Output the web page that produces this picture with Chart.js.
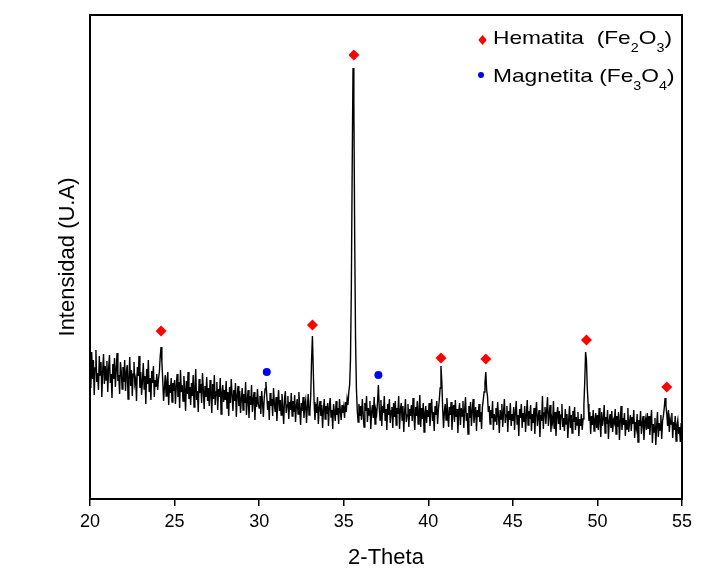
<!DOCTYPE html>
<html><head><meta charset="utf-8">
<script src="https://cdn.jsdelivr.net/npm/chart.js@4/dist/chart.umd.min.js"></script>
<style>html,body{margin:0;padding:0;background:#fff}canvas{display:block}</style>
</head><body>
<canvas id="c" width="701" height="569"></canvas>
<script>
// Diffractogram sampling grid (2-Theta, degrees)
const TWO_THETA_START = 20;
const TWO_THETA_STEP = 0.05;
// Intensity (arbitrary units), one row per degree, 20 samples each
const intensity = [
135,112,148,121,140,105,132,150,118,127,110,144,125,138,103,129,146,116,134,120,
139,108,131,145,117,126,102,136,121,142,113,130,147,119,125,106,138,128,111,133,
118,140,109,127,135,101,122,143,114,130,104,126,138,116,121,99,133,124,144,112,
128,105,119,137,111,124,96,131,116,140,108,122,100,129,117,134,103,120,113,126,
110,121,128,143,153,138,120,99,112,125,104,118,128,95,115,107,122,98,117,109,
120,96,114,126,103,118,92,130,108,115,99,124,111,89,119,106,128,101,113,95,
117,104,125,93,112,131,100,109,88,121,107,116,97,127,110,91,114,103,123,99,
112,94,120,106,87,116,101,125,95,108,118,90,111,103,122,86,107,115,98,110,
100,119,92,108,84,113,97,121,105,89,110,99,117,83,104,114,94,109,87,102,
112,90,106,97,118,85,101,110,82,104,95,115,88,100,108,80,103,93,111,96,
92,104,86,109,97,83,102,111,118,105,90,99,80,107,94,101,84,112,96,88,
103,79,97,110,89,100,85,106,93,76,101,109,87,95,104,81,98,90,107,84,
99,88,105,78,94,101,86,108,92,75,97,89,103,82,95,100,77,93,106,85,
88,104,140,164,130,98,80,96,87,103,76,92,99,84,95,72,90,101,81,94,
86,97,74,93,102,83,90,71,96,88,79,99,85,92,76,101,89,80,95,87,
93,82,98,88,101,95,108,115,140,210,330,432,395,260,160,112,90,78,96,84,
94,80,101,86,73,97,89,104,78,92,85,99,71,88,95,82,103,76,90,86,
98,115,92,80,100,74,94,87,104,79,91,70,96,85,101,77,89,93,72,97,
83,99,75,92,86,104,71,90,97,80,94,68,88,101,78,85,96,73,91,84,
95,79,102,86,70,93,84,99,76,89,105,73,92,81,97,68,87,94,77,90,
83,97,74,90,101,79,88,69,94,85,99,76,91,100,112,134,118,92,72,88,
96,80,102,87,73,93,85,98,70,89,95,78,100,83,91,67,88,97,75,92,
84,99,72,90,103,79,87,66,94,82,98,74,89,101,77,86,93,69,90,83,
96,78,88,71,93,100,108,117,128,110,104,88,94,76,90,82,99,70,86,79,
92,75,98,84,67,90,81,96,73,88,101,77,85,94,68,89,80,97,74,86,
79,93,70,88,99,76,85,64,91,82,96,72,87,78,94,68,84,100,75,89,
81,95,69,86,77,92,66,88,98,74,83,90,63,85,79,104,71,87,93,76,
90,103,74,86,95,68,82,77,99,71,88,64,84,93,76,89,70,85,96,73,
82,69,91,76,86,62,80,94,72,85,67,89,78,93,70,83,75,88,64,81,
74,86,70,81,95,118,148,140,112,96,79,88,66,84,75,90,69,80,87,72,
85,70,92,78,63,88,74,81,95,67,83,76,90,61,79,86,72,89,68,80,
77,91,66,84,73,88,60,79,94,70,82,75,87,64,80,71,92,68,78,85,
69,83,76,90,62,78,72,86,58,80,74,89,66,77,84,60,75,81,70,87,
71,84,65,79,90,57,76,68,82,55,74,88,63,77,70,85,61,79,84,92,
102,94,86,74,90,68,81,76,87,62,78,70,84,59,75,80,66,73,58,77,
64
];
// Phase markers
const hematitaX = [24.2, 33.15, 35.6, 40.75, 43.4, 49.35, 54.1];
const hematitaY = [169, 175, 445, 142, 141, 160, 113];
const magnetitaX = [30.45, 37.05];
const magnetitaY = [128, 125];
const xTicks = [20, 25, 30, 35, 40, 45, 50, 55];

const FONT = "'Liberation Sans', Arial, Helvetica, sans-serif";

const lineData = intensity.map((v, i) => ({x: +(TWO_THETA_START + i * TWO_THETA_STEP).toFixed(2), y: v}));
const hemData = hematitaX.map((x, i) => ({x, y: hematitaY[i]}));
const magData = magnetitaX.map((x, i) => ({x, y: magnetitaY[i]}));

const bgPlugin = {
  id: 'bg',
  beforeDraw(chart) {
    const c = chart.ctx;
    c.save(); c.fillStyle = '#fff'; c.fillRect(0, 0, chart.width, chart.height); c.restore();
  }
};

const framePlugin = {
  id: 'frame',
  afterDraw(chart) {
    const {ctx, chartArea: a} = chart;
    ctx.save();
    ctx.strokeStyle = '#000';
    ctx.lineWidth = 2;
    ctx.strokeRect(a.left, a.top, a.right - a.left, a.bottom - a.top);
    ctx.restore();
  }
};

const legendPlugin = {
  id: 'phaseLegend',
  afterDraw(chart) {
    const ctx = chart.ctx;
    const rows = [
      {parts: [['Hematita  (Fe', 0], ['2', 1], ['O', 0], ['3', 1], [')', 0]], y: 43.5, marker: 'diamond', my: 40, mx: 482.5},
      {parts: [['Magnetita (Fe', 0], ['3', 1], ['O', 0], ['4', 1], [')', 0]], y: 81.5, marker: 'circle', my: 75, mx: 481}
    ];
    const mainFont = '19px ' + FONT, subFont = '12px ' + FONT;
    const measure = parts => parts.reduce((w, p) => { ctx.font = p[1] ? subFont : mainFont; return w + ctx.measureText(p[0]).width; }, 0);
    const startX = 493, endX = 672;
    const sx = (endX - startX) / measure(rows[0].parts);
    ctx.save();
    rows.forEach(r => {
      if (r.marker === 'diamond') {
        ctx.fillStyle = '#ff0000';
        ctx.beginPath();
        ctx.moveTo(r.mx, r.my - 5); ctx.lineTo(r.mx + 4.2, r.my); ctx.lineTo(r.mx, r.my + 5); ctx.lineTo(r.mx - 4.2, r.my);
        ctx.closePath(); ctx.fill();
      } else {
        ctx.fillStyle = '#0000ff';
        ctx.beginPath(); ctx.arc(r.mx, r.my, 3, 0, Math.PI * 2); ctx.fill();
      }
      ctx.save();
      ctx.translate(startX, 0);
      ctx.scale(sx, 1);
      ctx.fillStyle = '#000';
      ctx.textBaseline = 'alphabetic';
      let x = 0;
      r.parts.forEach(p => {
        ctx.font = p[1] ? subFont : mainFont;
        ctx.fillText(p[0], x, r.y + (p[1] ? 8 : 0));
        x += ctx.measureText(p[0]).width;
      });
      ctx.restore();
    });
    ctx.restore();
  }
};

new Chart(document.getElementById('c'), {
  type: 'scatter',
  data: {
    datasets: [
      {type: 'line', label: 'XRD', data: lineData, borderColor: '#000', borderWidth: 1.4, pointRadius: 0, fill: false, tension: 0, order: 2},
      {label: 'Hematita (Fe2O3)', data: hemData, pointStyle: 'rectRot', pointRadius: 5.5, backgroundColor: '#ff0000', borderWidth: 0, order: 1},
      {label: 'Magnetita (Fe3O4)', data: magData, pointStyle: 'circle', pointRadius: 4, backgroundColor: '#0000ff', borderWidth: 0, order: 1}
    ]
  },
  options: {
    responsive: false,
    animation: false,
    devicePixelRatio: 1,
    layout: {padding: {top: 15, right: 19, left: 0, bottom: 0}},
    plugins: {legend: {display: false}, tooltip: {enabled: false}},
    scales: {
      x: {
        type: 'linear', min: 20, max: 55,
        afterBuildTicks: s => { s.ticks = xTicks.map(v => ({value: v})); },
        afterFit: s => { s.height = 70; },
        ticks: {color: '#000', font: {family: FONT, size: 18}, padding: 5},
        grid: {display: true, drawOnChartArea: false, drawTicks: true, tickLength: 7, color: '#000', lineWidth: 1.5},
        border: {display: false},
        title: {display: true, text: '2-Theta', color: '#000', font: {family: FONT, size: 22, lineHeight: 1}, padding: {top: 0, bottom: 0}}
      },
      y: {
        type: 'linear', min: 1, max: 485,
        afterFit: s => { s.width = 90; },
        ticks: {display: false},
        grid: {display: false},
        border: {display: false},
        title: {display: true, text: 'Intensidad (U.A)', color: '#000', font: {family: FONT, size: 22, lineHeight: 1}, padding: {top: 57, bottom: 0}}
      }
    }
  },
  plugins: [bgPlugin, framePlugin, legendPlugin]
});
</script>
</body></html>
